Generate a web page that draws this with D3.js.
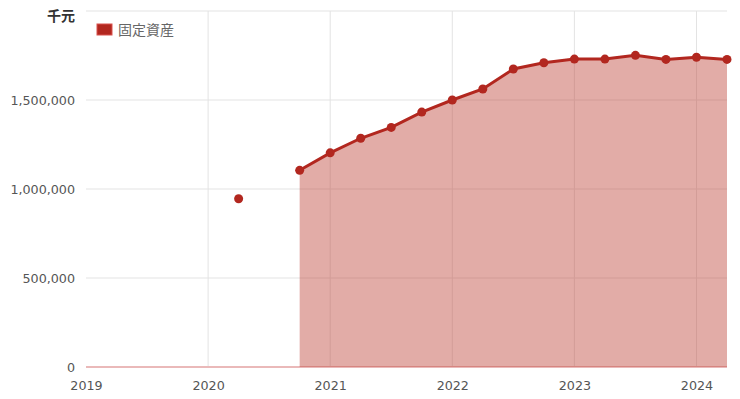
<html>
<script src="https://d3js.org/d3.v7.min.js"></script>
<body style="margin:0;background:#fff;">
<style>
    text { font-family: "DejaVu Sans", "Noto Sans CJK JP", sans-serif; }
    .tick text { font-size: 12.7px; fill: #555; }
</style>
<svg id="chart" width="740" height="399"></svg>
<script>
    // quarterly dates (decimal years) and values, 千元
    let dates = [2019.0, 2019.25, 2019.5, 2019.75, 2020.0, 2020.25, 2020.5, 2020.75,
        2021.0, 2021.25, 2021.5, 2021.75, 2022.0, 2022.25, 2022.5, 2022.75,
        2023.0, 2023.25, 2023.5, 2023.75, 2024.0, 2024.25];
    let values = [null, null, null, null, null, 945000, null, 1105000,
        1203000, 1285000, 1346000, 1432000, 1500000, 1562000, 1674000, 1709000,
        1730000, 1730000, 1751000, 1728000, 1740000, 1728000];
    let yTicks = [0, 500000, 1000000, 1500000, 2000000];
    let xTicks = [2019, 2020, 2021, 2022, 2023, 2024];
    let seriesName = "固定資産";
    let unitLabel = "千元";

    let data = dates.map((d, i) => ({date: d, value: values[i]}));

    let svg = d3.select("#chart");
    let margin = {left: 86, right: 13, top: 11, bottom: 32};
    let width = 740, height = 399;

    let x = d3.scaleLinear().domain([2019, 2024.25]).range([margin.left, width - margin.right]);
    let y = d3.scaleLinear().domain([0, 2000000]).range([height - margin.bottom, margin.top]);

    // grid
    svg.append("g").selectAll("line").data(yTicks.filter(t => t > 0)).join("line")
        .attr("x1", margin.left).attr("x2", width - margin.right)
        .attr("y1", d => y(d)).attr("y2", d => y(d))
        .attr("stroke", "#e3e3e3").attr("stroke-width", 1);
    svg.append("g").selectAll("line").data(xTicks.filter(t => t > 2019)).join("line")
        .attr("x1", d => x(d)).attr("x2", d => x(d))
        .attr("y1", margin.top).attr("y2", y(0))
        .attr("stroke", "#e3e3e3").attr("stroke-width", 1);

    // area (only the continuous part)
    let defined = d => d.value !== null;
    let area = d3.area().defined(defined)
        .x(d => x(d.date)).y0(y(0)).y1(d => y(d.value));
    let runs = [];
    let cur = [];
    data.forEach(d => {
        if (defined(d)) cur.push(d);
        else { if (cur.length) runs.push(cur); cur = []; }
    });
    if (cur.length) runs.push(cur);

    svg.append("line")
        .attr("x1", margin.left).attr("x2", width - margin.right)
        .attr("y1", y(0)).attr("y2", y(0))
        .attr("stroke", "#eab9b9").attr("stroke-width", 2);

    runs.filter(r => r.length > 1).forEach(r => {
        svg.append("path").datum(r)
            .attr("fill", "rgba(190,70,60,0.45)")
            .attr("d", area);
    });

    let line = d3.line().defined(defined).x(d => x(d.date)).y(d => y(d.value));
    svg.append("path").datum(data)
        .attr("fill", "none")
        .attr("stroke", "#b2271f")
        .attr("stroke-width", 3)
        .attr("d", line);

    svg.append("g").selectAll("circle").data(data.filter(defined)).join("circle")
        .attr("cx", d => x(d.date)).attr("cy", d => y(d.value))
        .attr("r", 4.5).attr("fill", "#b2271f");

    // axes
    let yAxis = d3.axisLeft(y).tickValues(yTicks.filter(t => t < 2000000))
        .tickFormat(d3.format(",")).tickSize(0).tickPadding(11);
    svg.append("g").attr("transform", `translate(${margin.left},0)`).call(yAxis)
        .call(g => g.select(".domain").remove());

    let xAxis = d3.axisBottom(x).tickValues(xTicks).tickFormat(d3.format("d"))
        .tickSize(0).tickPadding(14);
    svg.append("g").attr("transform", `translate(0,${y(0)})`).call(xAxis)
        .call(g => g.select(".domain").remove());

    svg.append("text").text(unitLabel)
        .attr("x", 75).attr("y", 21)
        .attr("text-anchor", "end")
        .attr("font-size", 14).attr("font-weight", "bold").attr("fill", "#333");

    // legend
    let legend = svg.append("g").attr("transform", "translate(97,24)");
    legend.append("rect").attr("width", 15).attr("height", 11)
        .attr("fill", "#b2271f").attr("stroke", "#d9534f").attr("stroke-width", 1);
    legend.append("text").text(seriesName)
        .attr("x", 21).attr("y", 10.5)
        .attr("font-size", 14).attr("fill", "#666");
</script>
</body>
</html>
